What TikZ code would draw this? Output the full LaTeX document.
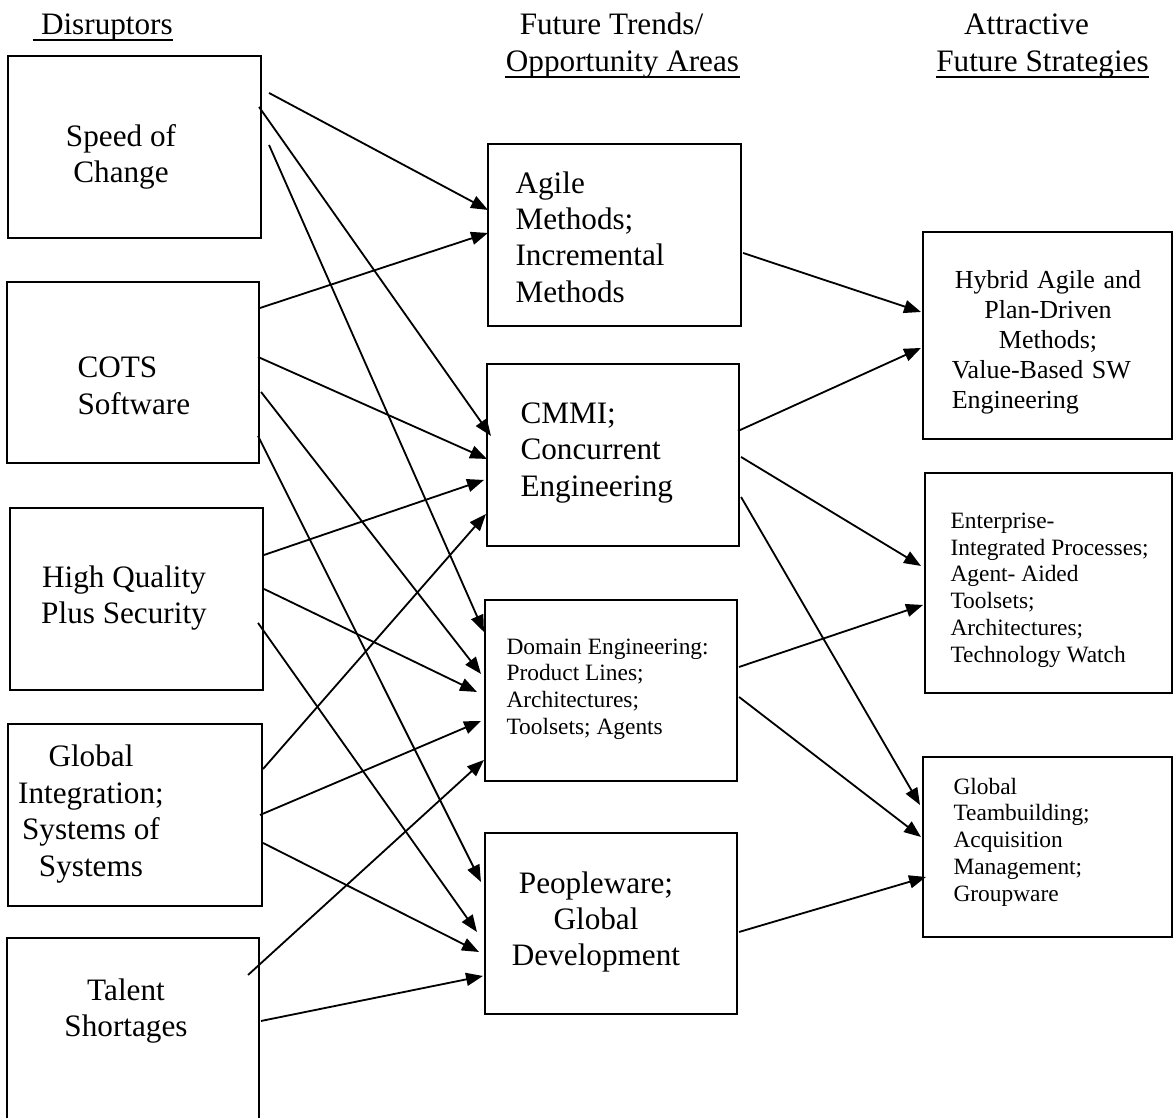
\documentclass[tikz,border=0pt]{standalone}
\usepackage{fontspec}
\setmainfont{Liberation Serif}
\usetikzlibrary{arrows.meta,calc,fit}

\tikzset{
  box/.style={draw,line width=0.8pt,inner sep=0pt},
  lbl/.style={inner sep=0pt,font=\fontsize{12}{14}\selectfont},
  small/.style={inner sep=0pt,font=\fontsize{9}{10.3}\selectfont,align=left,anchor=west},
  hdr/.style={inner sep=0pt,anchor=base,font=\fontsize{12}{14}\selectfont},
  uline/.style={line width=0.9pt},
  arr/.style={line width=0.7pt,-{Triangle[length=6.5pt,width=5pt]}}
}

\begin{document}
\begin{tikzpicture}[x=0.3846pt,y=-0.3846pt]
  \useasboundingbox (0,0) rectangle (1175,1117);
  \clip (0,0) rectangle (1175,1117);

  % column headings
  \node[hdr] (dis) at (103,35)    {\ Disruptors};
  \node[hdr] (ft)  at (611.5,35)  {Future Trends/};
  \node[hdr] (opp) at (622.5,72)  {Opportunity Areas};
  \node[hdr] (att) at (1026.5,35) {Attractive};
  \node[hdr] (fs)  at (1042.5,72) {Future Strategies};
  \foreach \h in {dis,opp,fs}
    \draw[uline] ($(\h.base west)+(0,5)$) -- ($(\h.base east)+(0,5)$);

  % disruptors
  \node[box,fit={(8,56) (261,238)}]   (speed)  {};
  \node[box,fit={(7,282) (259,463)}]  (cots)   {};
  \node[box,fit={(10,508) (263,690)}] (hq)     {};
  \node[box,fit={(8,724) (262,906)}]  (gi)     {};
  \node[box,fit={(7,938) (259,1140)}] (talent) {};
  \node[lbl,align=center] (speed-t)  at (121,157) {Speed of\\Change};
  \node[lbl,align=left,anchor=west] (cots-t) at (77,386) {COTS\\Software};
  \node[lbl,align=center] (hq-t)     at (124,598) {High Quality\\Plus Security};
  \node[lbl,align=center] (gi-t)     at (91,814)  {Global\\Integration;\\Systems of\\Systems};
  \node[lbl,align=center] (talent-t) at (126,1011) {Talent\\Shortages};

  % trends / opportunity areas
  \node[box,fit={(488,144) (741,326)}] (agile)  {};
  \node[box,fit={(487,364) (739,546)}] (cmmi)   {};
  \node[box,fit={(485,600) (737,781)}] (domain) {};
  \node[box,fit={(485,833) (737,1014)}] (people) {};
  \node[lbl,align=left,anchor=west] (agile-t) at (515,237) {Agile\\Methods;\\Incremental\\Methods};
  \node[lbl,align=left,anchor=west] (cmmi-t)  at (520,453) {CMMI;\\Concurrent\\Engineering};
  \node[small] (domain-t) at (506,689) {Domain Engineering:\\Product Lines;\\Architectures;\\Toolsets; Agents};
  \node[lbl,align=center] (people-t) at (596,922) {Peopleware;\\Global\\Development};

  % strategies
  \node[box,fit={(923,232) (1172,439)}] (hybrid) {};
  \node[box,fit={(925,473) (1172,693)}] (ent)    {};
  \node[box,fit={(923,757) (1172,937)}] (team)   {};
  \node[inner sep=0pt,font=\fontsize{10}{11.5}\selectfont,text width=74pt,align=left] (hybrid-t) at (1048,342)
    {\parindent=0pt{\centering Hybrid Agile and\\ Plan-Driven\\ Methods;\par}Value-Based SW\\ Engineering};
  \node[small] (ent-t)  at (950,590) {Enterprise-\\Integrated Processes;\\Agent- Aided\\Toolsets;\\Architectures;\\Technology Watch};
  \node[small] (team-t) at (953,842) {Global\\Teambuilding;\\Acquisition\\Management;\\Groupware};

  % connectors: source/offset from north east, target/offset from north west
  \foreach \src/\sx/\sy/\dst/\dx/\dy in {
    speed/7/38/agile/1/67, speed/-3/52/cmmi/5/73, speed/7/90/domain/0/33,
    cots/0/27/agile/1/90, cots/-2/76/cmmi/1/96, cots/1/111/domain/-3/75, cots/-2/155/people/-3/50,
    hq/0/48/cmmi/-2/117, hq/0/82/domain/-7/93, hq/-6/116/people/-7/100,
    gi/0/46/cmmi/0/151, gi/-3/92/domain/-3/122, gi/0/120/people/-5/120,
    talent/-12/38/domain/0/161, talent/1/84/people/-1/144,
    agile/1/110/hybrid/-1/81, cmmi/-2/68/hybrid/-1/117,
    cmmi/1/94/ent/-3/94, cmmi/1/134/team/-2/49,
    domain/1/68/ent/-1/133, domain/1/98/team/-1/81, people/1/100/team/4/121}
    \draw[arr] ($(\src.north east)+(\sx,\sy)$) -- ($(\dst.north west)+(\dx,\dy)$);
\end{tikzpicture}
\end{document}
